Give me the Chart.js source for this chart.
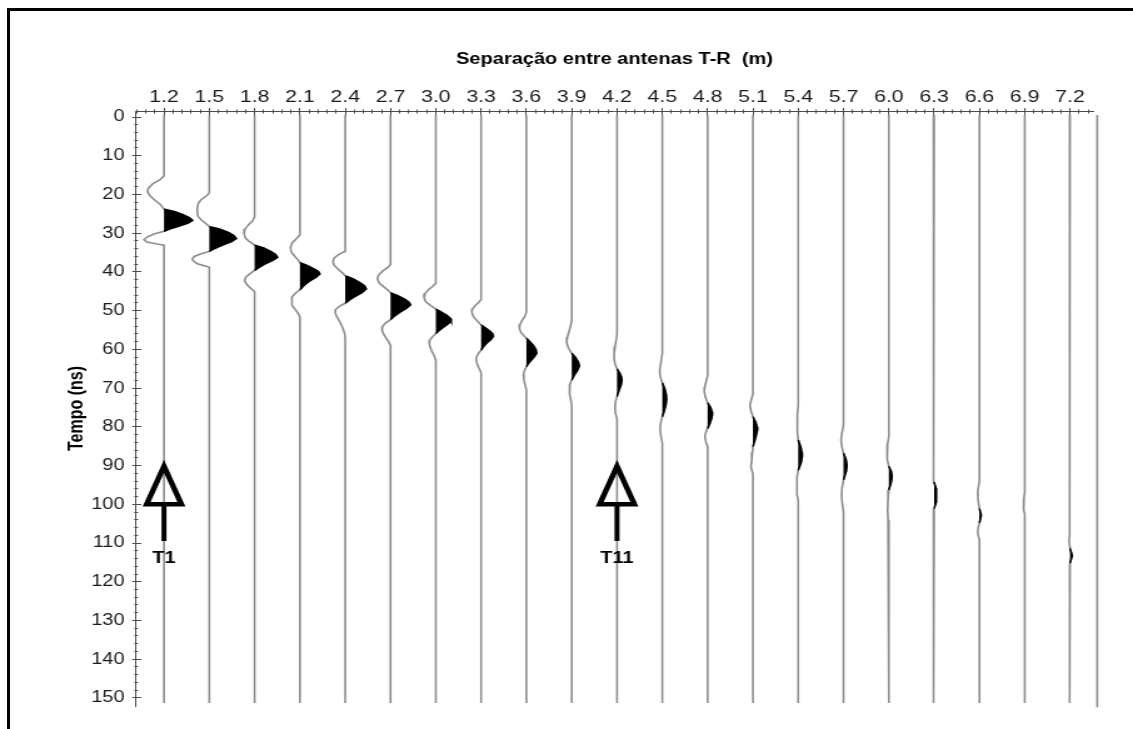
<!DOCTYPE html>
<html>
<head>
<meta charset="utf-8">
<script src="https://cdn.jsdelivr.net/npm/chart.js@4.4.1/dist/chart.umd.min.js"></script>
<style>
  html, body { margin: 0; padding: 0; background: #fff; overflow: hidden; }
  #wrap { position: relative; width: 1133px; height: 729px; }
  #frame { position: absolute; left: 7px; top: 8px; right: 0; bottom: 0;
           border-left: 3px solid #000; border-top: 3px solid #000; box-sizing: border-box; }
  #c { position: absolute; left: 0; top: 0; }
</style>
</head>
<body>
<div id="wrap">
  <div id="frame"></div>
  <canvas id="c" width="906" height="729" style="width:1133px;height:729px"></canvas>
</div>
<script>
// T-R antenna separations (m), one trace each
const separations = [1.2, 1.5, 1.8, 2.1, 2.4, 2.7, 3.0, 3.3, 3.6, 3.9, 4.2,
                     4.5, 4.8, 5.1, 5.4, 5.7, 6.0, 6.3, 6.6, 6.9, 7.2];
// labelled time ticks (ns)
const timeTicks = [0, 10, 20, 30, 40, 50, 60, 70, 80, 90, 100, 110, 120, 130, 140, 150];
// highlighted traces
const markerSeps = [1.2, 4.2];
const markerNames = ['T1', 'T11'];

// wavelet samples for each trace: [time (ns), amplitude]
const tr01 = [[15.2,0],[16.2,-4],[17.2,-11],[18.3,-15.5],[19.2,-16.5],[20.2,-14.5],[21.3,-10],[22.5,-4],[23.8,0],[24.4,10],[25.2,19],[26.0,25.5],[26.7,28.5],[27.4,24],[28.2,15],[28.9,6],[29.5,0],[30.2,-10],[31.0,-17],[31.7,-20],[32.3,-17],[32.8,-7],[33.1,0]];
const tr02 = [[19.6,0],[20.4,-3],[21.3,-8],[22.3,-11],[23.5,-12],[24.8,-12],[25.8,-11],[26.8,-7],[27.7,-2.5],[28.3,0],[28.9,10],[29.8,19],[30.6,24.5],[31.4,27],[32.2,22],[33.1,13],[34.0,5],[34.7,0],[35.4,-9],[36.0,-15],[36.6,-17],[37.2,-16],[37.9,-12],[38.5,-4],[38.8,0]];
const tr03 = [[25.8,0],[26.8,-2],[27.8,-6],[28.9,-9.5],[30.2,-10.5],[31.3,-9],[32.2,-5],[33.1,0],[33.8,9],[34.7,16],[35.5,21],[36.2,23],[37.0,18],[38.0,10],[38.9,4],[39.6,0],[40.5,-5],[41.4,-9],[42.3,-10],[43.2,-8],[44.2,-4],[45.1,0]];
const tr04 = [[30.4,0],[31.3,-3],[32.4,-7.5],[33.7,-9.5],[34.9,-8.5],[36.0,-5],[37.0,-1.5],[37.6,0],[38.3,7],[39.2,14],[39.9,18.5],[40.5,20],[41.3,16.5],[42.3,10],[43.5,4],[44.6,0],[45.5,-4.5],[46.5,-8],[47.5,-8.5],[48.6,-7.5],[49.6,-5],[50.6,-2],[51.6,0]];
const tr05 = [[34.7,0],[34.9,-2],[35.6,-7],[36.4,-11],[37.3,-12.3],[38.3,-11],[39.3,-7],[40.3,-2.5],[41.0,0],[41.8,8],[42.8,15],[43.6,19.5],[44.4,21],[45.3,17],[46.3,10],[47.3,4],[48.1,0],[48.9,-6],[49.7,-9.5],[50.5,-10],[51.5,-8.5],[52.6,-6],[53.6,-4],[54.8,-2],[56.0,-0.5],[57.2,0]];
const tr06 = [[38.1,0],[38.9,-3],[39.8,-8],[40.8,-12],[41.8,-13],[42.8,-11.5],[43.8,-7],[44.7,-2.5],[45.4,0],[46.1,7],[47.0,14],[47.8,18.5],[48.5,20],[49.4,16],[50.4,9.5],[51.4,4],[52.3,0],[53.2,-5],[54.1,-8],[55.0,-8.5],[56.0,-7],[57.0,-4.5],[58.0,-2],[59.0,0]];
const tr07 = [[42.9,0],[43.7,-3],[44.6,-7.5],[45.6,-10.8],[46.7,-11.8],[47.7,-10],[48.7,-5],[49.6,0],[50.3,5],[51.2,11],[52.0,14.5],[52.6,15.3],[53.4,12.5],[54.3,7.5],[55.2,3],[55.9,0],[56.8,-3.5],[57.6,-6],[58.5,-6.5],[59.6,-5.5],[60.7,-3.5],[61.7,-1.5],[62.8,0]];
const tr08 = [[47.1,0],[47.9,-2.5],[48.7,-6],[49.5,-8.5],[50.4,-9.3],[51.4,-8],[52.5,-4.5],[53.7,0],[54.5,4.5],[55.3,9],[56.0,11.5],[56.6,12.3],[57.4,10],[58.4,5.5],[59.4,2],[60.2,0],[61.0,-2.5],[61.9,-4.5],[62.7,-5],[63.7,-4],[64.7,-2.5],[65.4,-1],[66.2,0]];
const tr09 = [[50.4,0],[51.4,-1.5],[52.4,-4],[53.5,-6.3],[54.6,-7],[55.6,-5.5],[56.5,-2.5],[57.1,0],[58.0,3.5],[59.0,7],[60.0,9.5],[61.0,10.3],[61.9,8],[62.9,4.5],[63.8,1.5],[64.5,0],[65.5,-2],[66.6,-3],[67.8,-2.5],[69.0,-1.5],[70.5,0]];
const tr10 = [[52.6,0],[53.8,-1],[55.2,-2.5],[56.8,-4.3],[58.3,-5],[59.6,-3.5],[60.5,-1.2],[61.0,0],[62.0,3.5],[63.2,6.5],[64.3,7.7],[65.3,6],[66.5,3],[67.9,0],[69.0,-1.8],[70.2,-2.3],[71.5,-2],[73.0,-1],[74.5,0]];
const tr11 = [[55.9,0],[57.5,-0.8],[59.3,-2],[61.0,-2.8],[62.3,-3],[63.7,-2],[65.0,0],[66.2,2.8],[67.2,4.5],[68.1,5],[69.2,4],[70.6,2],[72.2,0],[73.5,-1.5],[75.0,-2],[76.5,-1.5],[78.0,0]];
const tr12 = [[61.0,0],[63.0,-1.2],[65.0,-2.4],[66.3,-2.5],[67.5,-1.5],[68.6,0],[70.2,2.5],[71.8,4],[73.0,4.3],[74.4,3.5],[76.0,1.8],[77.4,0],[78.8,-1.5],[80.5,-2.3],[82.3,-1.5],[84.3,0]];
const tr13 = [[66.8,0],[68.3,-1.5],[69.7,-2.8],[70.9,-3.3],[72.3,-2.3],[73.8,0],[75.0,3],[76.2,4.5],[76.9,4.7],[78.0,3.8],[79.3,2],[80.4,0],[81.4,-1.8],[82.5,-2.7],[83.8,-1.8],[85.1,0]];
const tr14 = [[71.5,0],[72.8,-1.5],[74.4,-3],[75.9,-2],[77.4,0],[78.8,2.8],[80.0,4.2],[80.8,4.5],[82.0,3.5],[83.6,1.8],[85.1,0],[86.6,-0.5],[88.5,-1.2],[90.3,-2],[91.3,-1],[92.2,0]];
const tr15 = [[74.5,0],[76.5,-0.8],[79.0,-1],[81.5,-0.8],[83.4,0],[85.2,2.5],[86.6,3.7],[87.7,4],[89.0,3.2],[90.2,1.5],[91.2,0],[93.0,-1.2],[95.5,-1.5],[97.5,-1],[98.9,0]];
const tr16 = [[79.5,0],[81.5,-1.5],[83.4,-2.5],[85.3,-1.5],[86.8,0],[88.4,2.5],[89.9,3.5],[91.4,2.8],[93.7,0],[95.8,-1.5],[98.0,-2],[100.2,-1],[102.0,0]];
const tr17 = [[82.5,0],[84.5,-1.3],[86.5,-2],[88.4,-1.3],[90.2,0],[91.6,2.5],[92.9,3.2],[94.5,2.2],[96.3,0],[98.5,-0.8],[101.5,-1.2],[104.0,-0.8],[106.0,0]];
const tr18 = [[86.5,0],[88.6,-1.2],[90.5,-1.2],[92.5,-0.6],[94.2,0],[95.8,1.8],[97.6,2.5],[99.4,1.8],[101.1,0],[103.0,-1.2],[105.0,-1.2],[107.5,0]];
const tr19 = [[94.0,0],[95.5,-1],[97.0,-1.7],[98.5,-1.5],[100.0,-0.7],[101.1,0],[102.8,1.8],[104.8,0],[106.0,-1.2],[107.2,-1.7],[108.2,-1],[109.2,0]];
const tr20 = [[97.0,0],[98.5,-0.8],[100.2,-1.3],[101.5,-0.8],[102.5,0]];
const tr21 = [[106.5,0],[108.0,-0.8],[109.5,-1],[110.7,-0.4],[111.4,0],[113.2,2.2],[115.2,0],[116.8,-0.7],[119.0,-0.8],[121.0,0]];
const traces = [tr01, tr02, tr03, tr04, tr05, tr06, tr07, tr08, tr09, tr10, tr11,
                tr12, tr13, tr14, tr15, tr16, tr17, tr18, tr19, tr20, tr21];

// record window and plot geometry
const TRACE_START = -0.5, TRACE_END = 151.3;
const EDGE_TRACE = 7.38;           // closing line on the right of the section
const AMP_GAIN = 0.3 / 45.3;       // wiggle gain: amplitude -> separation units
const X_MIN = 1.0146, X_MAX = 7.352;
const Y_MIN = -1.55, Y_MAX = 152.08;
const ARROW_TIP = 90.2, ARROW_BASE = 100, ARROW_TAIL = 109.5, ARROW_HALF = 0.115;
const MARKER_LABEL_T = 114;

const FONT = '"Liberation Sans", Arial, Helvetica, sans-serif';
const TRACE_COLOR = '#8c8c8c';
const AXIS_COLOR = '#4a4a4a';

// tick positions: minor every 0.06 m / 2 ns, labelled ones from the lists above
const xTickValues = [];
for (let k = 17; k <= 122; k++) xTickValues.push(+(k * 0.06).toFixed(2));
const yTickValues = [];
for (let k = 0; k <= 75; k++) yTickValues.push(k * 2);

const isMajorX = v => separations.some(s => Math.abs(s - v) < 1e-6);
const isMajorY = v => timeTicks.includes(v);

function tracePoints(sep, samples, positiveOnly) {
  const pts = [{ x: sep, y: TRACE_START }];
  for (const [t, a] of samples) {
    const amp = positiveOnly ? Math.max(a, 0) : a;
    pts.push({ x: sep + AMP_GAIN * amp, y: t });
  }
  pts.push({ x: sep, y: TRACE_END });
  return pts;
}

const datasets = [];
separations.forEach((sep, i) => {
  // wiggle line
  datasets.push({
    label: 'traço ' + sep.toFixed(1),
    data: tracePoints(sep, traces[i], false),
    borderColor: TRACE_COLOR, borderWidth: 1.6,
    fill: false, pointRadius: 0, order: 2
  });
  // positive lobes shaded black, outlined only where the trace is displaced
  datasets.push({
    label: 'lóbulo ' + sep.toFixed(1),
    data: tracePoints(sep, traces[i], true),
    borderWidth: 1.4, borderColor: 'transparent', backgroundColor: '#000',
    segment: {
      borderColor: c => (c.p0.parsed.x > sep + 1e-9 || c.p1.parsed.x > sep + 1e-9) ? '#000' : 'transparent'
    },
    fill: { value: sep }, pointRadius: 0, order: 1
  });
});
datasets.push({
  label: 'borda',
  data: [{ x: EDGE_TRACE, y: TRACE_START }, { x: EDGE_TRACE, y: 152.4 }],
  borderColor: TRACE_COLOR, borderWidth: 1.6, fill: false, pointRadius: 0,
  clip: false, order: 2
});
markerSeps.forEach(sep => {
  datasets.push({
    label: 'seta',
    data: [
      { x: sep - ARROW_HALF, y: ARROW_BASE }, { x: sep, y: ARROW_TIP },
      { x: sep + ARROW_HALF, y: ARROW_BASE }, { x: sep - ARROW_HALF, y: ARROW_BASE },
      { x: sep, y: ARROW_TIP }
    ],
    borderColor: '#000', borderWidth: 4.5, borderJoinStyle: 'miter',
    fill: false, pointRadius: 0, order: 0
  });
  datasets.push({
    label: 'haste',
    data: [{ x: sep, y: ARROW_BASE }, { x: sep, y: ARROW_TAIL }],
    borderColor: '#000', borderWidth: 4, borderCapStyle: 'butt',
    fill: false, pointRadius: 0, order: 0
  });
});

const markerLabels = {
  id: 'markerLabels',
  afterDatasetsDraw(chart) {
    const { ctx, scales: { x, y } } = chart;
    ctx.save();
    ctx.font = 'bold 16px ' + FONT;
    ctx.fillStyle = '#000';
    ctx.textAlign = 'center';
    ctx.textBaseline = 'middle';
    markerSeps.forEach((s, i) => {
      ctx.fillText(markerNames[i], x.getPixelForValue(s), y.getPixelForValue(MARKER_LABEL_T));
    });
    ctx.restore();
  }
};

new Chart(document.getElementById('c'), {
  type: 'line',
  data: { datasets },
  plugins: [markerLabels],
  options: {
    responsive: false,
    animation: false,
    events: [],
    indexAxis: 'y',
    elements: { line: { tension: 0 }, point: { radius: 0 } },
    layout: { padding: { left: 40, top: 20, right: 32, bottom: 23 }, autoPadding: false },
    plugins: { legend: { display: false }, tooltip: { enabled: false } },
    scales: {
      x: {
        type: 'linear', position: 'top', min: X_MIN, max: X_MAX,
        afterBuildTicks(scale) { scale.ticks = xTickValues.map(v => ({ value: v })); },
        afterFit(scale) { scale.height = 91; },
        ticks: {
          autoSkip: false, maxRotation: 0, minRotation: 0, padding: 0.8,
          color: '#1a1a1a', font: { family: FONT, size: 17 },
          callback(v) {
            const s = separations.find(s => Math.abs(s - v) < 1e-6);
            return s === undefined ? '' : s.toFixed(1);
          }
        },
        grid: {
          drawOnChartArea: true, color: AXIS_COLOR, lineWidth: 1,
          tickLength: 3, tickColor: AXIS_COLOR, tickWidth: 1,
          tickBorderDash: c => (c.tick && isMajorX(c.tick.value)) ? [] : [0, 1.5, 1.5, 100]
        },
        border: {
          display: true, color: AXIS_COLOR, width: 1,
          dash: c => c.tick ? (isMajorX(c.tick.value) ? [4, 3000] : [1.5, 3000]) : []
        },
        title: {
          display: true, text: 'Separação entre antenas T-R  (m)', color: '#000',
          font: { family: FONT, size: 16, weight: 'bold' },
          padding: { top: 29.9, bottom: 0 }
        }
      },
      y: {
        type: 'linear', position: 'left', reverse: true, min: Y_MIN, max: Y_MAX,
        afterBuildTicks(scale) { scale.ticks = yTickValues.map(v => ({ value: v })); },
        afterFit(scale) { scale.width = 68.75; },
        ticks: {
          autoSkip: false, padding: 6.1, color: '#1a1a1a',
          font: { family: FONT, size: 16 },
          callback(v) { return isMajorY(v) ? String(v) : ''; }
        },
        grid: {
          drawOnChartArea: true, color: AXIS_COLOR, lineWidth: 1,
          tickLength: 3, tickColor: AXIS_COLOR, tickWidth: 1,
          tickBorderDash: c => (c.tick && isMajorY(c.tick.value)) ? [] : [0, 1.6, 1.4, 100]
        },
        border: {
          display: true, color: AXIS_COLOR, width: 1,
          dash: c => c.tick ? (isMajorY(c.tick.value) ? [4, 3000] : [1.4, 3000]) : []
        },
        title: {
          display: true, text: 'Tempo (ns)', color: '#000',
          font: { family: FONT, size: 16, weight: 'bold' },
          padding: { top: 12, bottom: 0 }
        }
      }
    }
  }
});
</script>
</body>
</html>
